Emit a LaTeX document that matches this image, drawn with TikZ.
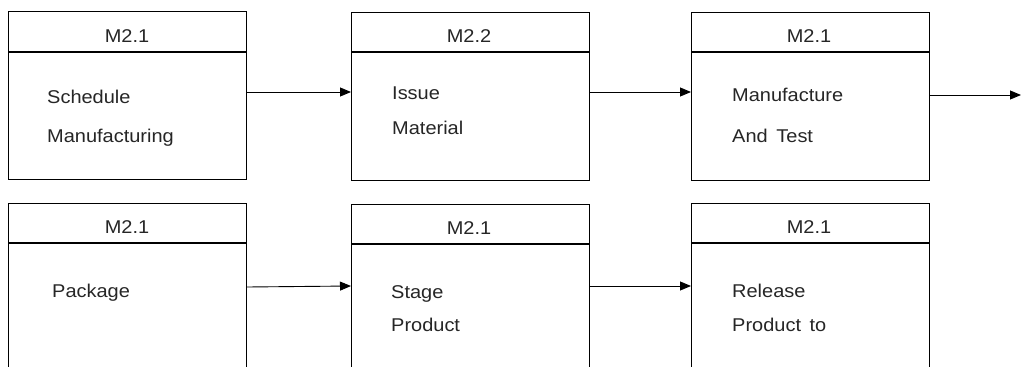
\documentclass[tikz,border=0pt]{standalone}
\usepackage{fontspec}
\setmainfont{Liberation Sans}[FakeStretch=1.08]
\usetikzlibrary{arrows.meta,calc}
\begin{document}
\begin{tikzpicture}[x=1pt,y=-1pt,
  box/.style={draw=black,line width=1.1pt,rectangle,minimum width=238pt,anchor=north west,inner sep=0pt},
  toprow/.style={box,minimum height=168pt},
  botrow/.style={box,minimum height=180pt},
  hdr/.style={draw=black,line width=1.1pt},
  ttl/.style={font=\fontsize{18.5}{18.5}\selectfont,text=black!85,anchor=base,inner sep=0pt},
  body/.style={font=\fontsize{18.5}{18.5}\selectfont,text=black!85,anchor=base west,inner sep=0pt},
  arr/.style={line width=0.9pt,-{Triangle[length=11pt,width=9pt]}}]
\useasboundingbox (0,0) rectangle (1021,367);
\clip (0,0) rectangle (1021,367);
% top row
\node[toprow] (b1) at (8,11) {};
\node[toprow] (b2) at (351,12) {};
\node[toprow] (b3) at (691,12) {};
% bottom row
\node[botrow] (b4) at (8,203) {};
\node[botrow] (b5) at (351,204) {};
\node[botrow] (b6) at (691,203) {};
% header lines
\foreach \b/\h in {b1/41,b2/40,b3/40,b4/40,b5/40,b6/40}{
  \draw[hdr] ([yshift=-\h pt]\b.north west) -- ([yshift=-\h pt]\b.north east);
}
% titles
\node[ttl] (t1) at (127,42) {M2.1};
\node[ttl] (t2) at (469,42) {M2.2};
\node[ttl] (t3) at (809,42) {M2.1};
\node[ttl] (t4) at (127,233) {M2.1};
\node[ttl] (t5) at (469,234) {M2.1};
\node[ttl] (t6) at (809,233) {M2.1};
% body texts
\node[body] (s1a) at (47,103) {Schedule};
\node[body] (s1b) at (47,142) {Manufacturing};
\node[body] (s2a) at (392,99) {Issue};
\node[body] (s2b) at (392,134) {Material};
\node[body] (s3a) at (732,101) {Manufacture};
\node[body] (s3b) at (732,142) {And\, Test};
\node[body] (s4a) at (52,297) {Package};
\node[body] (s5a) at (391,298) {Stage};
\node[body] (s5b) at (391,331) {Product};
\node[body] (s6a) at (732,297) {Release};
\node[body] (s6b) at (732,331) {Product\, to};
% connectors
\coordinate (out) at (1021,95);
\draw[arr] ([yshift=-81pt]b1.north east) -- ([yshift=-80pt]b2.north west);
\draw[arr] ([yshift=-80pt]b2.north east) -- ([yshift=-80pt]b3.north west);
\draw[arr] ([yshift=-83pt]b3.north east) -- (out);
\draw[arr] ([yshift=-84pt]b4.north east) -- ([yshift=-82pt]b5.north west);
\draw[arr] ([yshift=-82pt]b5.north east) -- ([yshift=-83pt]b6.north west);
\end{tikzpicture}
\end{document}
